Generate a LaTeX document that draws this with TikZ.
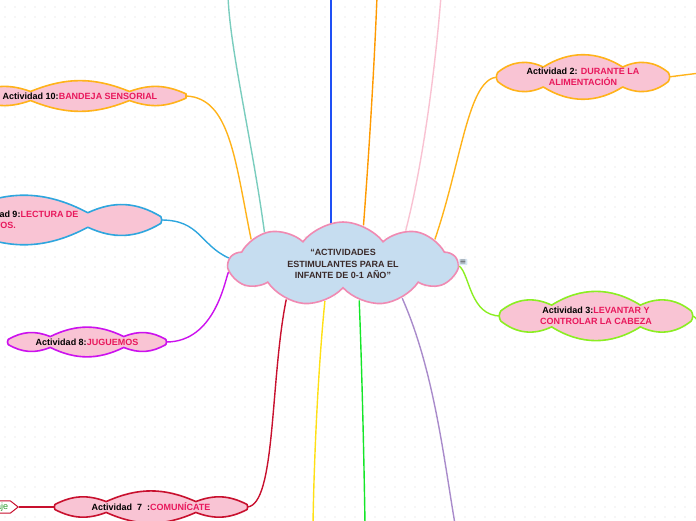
\documentclass[tikz,border=0pt]{standalone}
\usepackage{fontspec}
\setmainfont{Liberation Sans}
\newfontfamily\symfont{DejaVu Sans}
\usetikzlibrary{shapes.symbols, backgrounds, positioning, calc}

\definecolor{mainfill}{HTML}{C6DDF0}
\definecolor{mainline}{HTML}{F08AB2}
\definecolor{maintext}{HTML}{3A2A2A}
\definecolor{actfill}{HTML}{F9C4D4}
\definecolor{acttext}{HTML}{E8185C}
\definecolor{cteal}{HTML}{7ACDBE}
\definecolor{cblue}{HTML}{1F4FF5}
\definecolor{corange}{HTML}{FF9A00}
\definecolor{cpink}{HTML}{F9C2D2}
\definecolor{cgold}{HTML}{FFB31A}
\definecolor{csky}{HTML}{2EA6DE}
\definecolor{cviolet}{HTML}{CC11EE}
\definecolor{cred}{HTML}{C8102E}
\definecolor{cyellow}{HTML}{FFE014}
\definecolor{cgreen}{HTML}{14E628}
\definecolor{clavender}{HTML}{A98BCB}
\definecolor{clime}{HTML}{8BEE22}
\definecolor{langtext}{HTML}{2E9A2E}
\definecolor{dotgray}{HTML}{ECECEC}

% puffy outline round a node: node, colour, half width, half height, bend
\newcommand{\puffframe}[5]{%
  \draw[line width=1.6pt, draw=#2, fill=actfill, line join=round]
    ($(#1.center)+({#3*cos(25)},{#4*sin(25)})$)
    \foreach \t in {65,115,155,205,245,295,335,385} {
      to[bend right=#5] ($(#1.center)+({#3*cos(\t)},{#4*sin(\t)})$)
    } -- cycle;}

\begin{document}
\begin{tikzpicture}[
    x=1pt, y=1pt,
    hub/.style={cloud, cloud puffs=9, cloud puff arc=105, cloud ignores aspect,
      draw=mainline, fill=mainfill, line width=1.6pt, inner sep=0pt,
      font=\fontsize{9}{11.5}\selectfont\bfseries, text=maintext, align=center},
    act/.style={inner sep=0pt, font=\fontsize{9}{11}\selectfont\bfseries, align=center},
    link/.style={line width=1.4pt},
    note/.style={fill=mainfill!70, rounded corners=1pt, inner sep=1pt,
      font=\symfont\fontsize{8}{8}\selectfont, text=black!70},
    tag/.style={signal, signal to=east, signal pointer angle=76, draw=cred,
      fill=white, line width=1pt, inner sep=2pt,
      font=\fontsize{9}{11}\selectfont, text=langtext},
  ]
  \useasboundingbox (0,0) rectangle (696,520);
  \clip (0,0) rectangle (696,520);

  % central idea
  \node[hub, minimum width=228, minimum height=84] (main) at (343,256)
    {“ACTIVIDADES\\ESTIMULANTES PARA EL\\INFANTE DE 0-1 AÑO”};
  \node[note] (memo) at (463,258) {≡};

  % activities
  \node[act, minimum width=170, minimum height=44] (a2) at (583,443)
    {Actividad 2: \textcolor{acttext}{DURANTE LA}\\\textcolor{acttext}{ALIMENTACIÓN}};
  \node[act, minimum width=190, minimum height=50] (a3) at (596,204)
    {Actividad 3:\textcolor{acttext}{LEVANTAR Y}\\\textcolor{acttext}{CONTROLAR LA CABEZA}};
  \node[act, minimum width=192, minimum height=29] (a7) at (151,13)
    {Actividad~~7~~:\textcolor{acttext}{COMUNÍCATE}};
  \node[act, minimum width=158, minimum height=27] (a8) at (87,178)
    {Actividad 8:\textcolor{acttext}{JUGUEMOS}};
  \node[act, minimum width=274, minimum height=49, align=left] (a9) at (24,300)
    {Actividad 9:\textcolor{acttext}{LECTURA DE}\\\textcolor{acttext}{CUENTOS.}};
  \node[act, minimum width=212, minimum height=26] (a10) at (80,424)
    {Actividad 10:\textcolor{acttext}{BANDEJA SENSORIAL}};
  \node[tag, anchor=east] (lang) at (19,13) {Lenguaje};

  % loose ends past the frame
  \coordinate (t1) at (228,524);
  \coordinate (t2) at (331,524);
  \coordinate (t3) at (377,524);
  \coordinate (t4) at (441,524);
  \coordinate (b1) at (313,-4);
  \coordinate (b2) at (365,-4);
  \coordinate (b3) at (455,-4);
  \coordinate (r2) at (700,447);
  \coordinate (r3) at (702,172);

  \begin{scope}[on background layer]
    \foreach \i in {0,...,69}
      \foreach \j in {0,...,52}
        \fill[dotgray] (\i*10+5,\j*10+3) circle (0.8);
  \end{scope}

  \begin{scope}[on background layer]
    \draw[link, cteal] (main.158) .. controls (252,380) and (230,470) .. (t1);
    \draw[link, cblue] (t2 |- main.center) -- (t2);
    \draw[link, corange] (main.62) .. controls (370,380) and (375,470) .. (t3);
    \draw[link, cpink] (main.28) .. controls (424,360) and (436,460) .. (t4);
    \draw[link, cgold] (main.15) .. controls (462,360) and (468,442) .. (a2.west);
    \draw[link, cgold] (a2.east) -- (r2);
    \draw[link, cgold] (main.165) .. controls (235,360) and (230,422) .. (a10.east);
    \draw[link, csky] (main.177) .. controls (200,275) and (200,300) .. (a9.east);
    \draw[link, cviolet] (main.184) .. controls (225,240) and (215,178) .. (a8.east);
    \draw[link, cred] (main.212) .. controls (270,140) and (276,15) .. (a7.east);
    \draw[link, cred] (a7.west) -- (lang.east);
    \draw[link, cyellow] (main.244) .. controls (318,150) and (314,60) .. (b1);
    \draw[link, cgreen] (main.294) .. controls (362,150) and (364,60) .. (b2);
    \draw[link, clavender] (main.330) .. controls (434,150) and (444,60) .. (b3);
    \draw[link, clime] (main.359) .. controls (470,245) and (470,204) .. (a3.west);
    \draw[link, clime] (a3.east) .. controls (700,204) and (698,190) .. (r3);
    % cloud outlines of the activities
    \puffframe{a2}{cgold}{94}{11}{32}
    \puffframe{a3}{clime}{105}{12}{32}
    \puffframe{a7}{cred}{106}{6}{24}
    \puffframe{a8}{cviolet}{87}{6}{26}
    \puffframe{a9}{csky}{151}{8}{28}
    \puffframe{a10}{cgold}{117}{5}{22}
  \end{scope}
\end{tikzpicture}
\end{document}
